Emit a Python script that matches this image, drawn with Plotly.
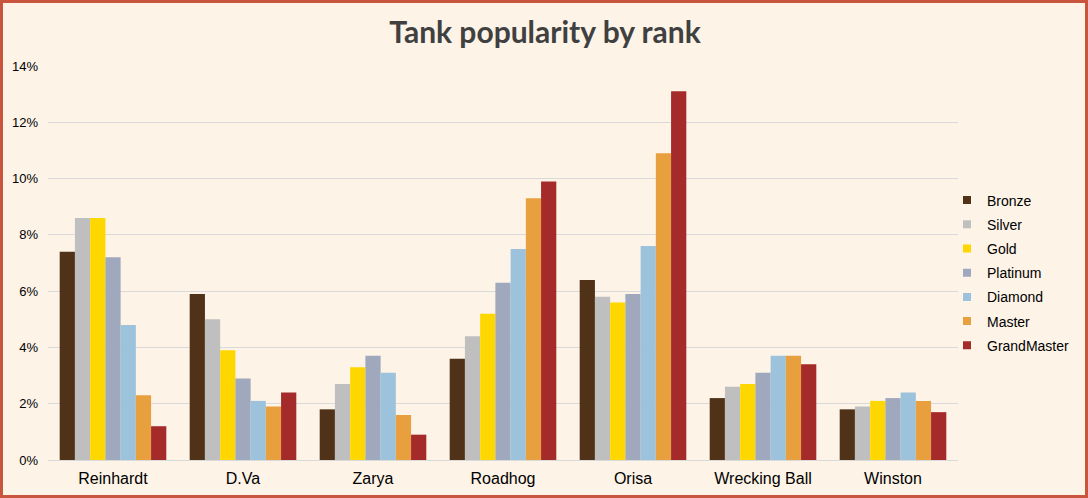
import plotly.graph_objects as go

heroes = ["Reinhardt", "D.Va", "Zarya", "Roadhog", "Orisa", "Wrecking Ball", "Winston"]
ranks = ["Bronze", "Silver", "Gold", "Platinum", "Diamond", "Master", "GrandMaster"]

bronze = [7.4, 5.9, 1.8, 3.6, 6.4, 2.2, 1.8]
silver = [8.6, 5.0, 2.7, 4.4, 5.8, 2.6, 1.9]
gold = [8.6, 3.9, 3.3, 5.2, 5.6, 2.7, 2.1]
platinum = [7.2, 2.9, 3.7, 6.3, 5.9, 3.1, 2.2]
diamond = [4.8, 2.1, 3.1, 7.5, 7.6, 3.7, 2.4]
master = [2.3, 1.9, 1.6, 9.3, 10.9, 3.7, 2.1]
grandmaster = [1.2, 2.4, 0.9, 9.9, 13.1, 3.4, 1.7]

series = [bronze, silver, gold, platinum, diamond, master, grandmaster]
colors = ["#4F3217", "#BFBFBF", "#FFD700", "#9FA8BD", "#9DC3DC", "#E8A03E", "#A52A2A"]

fig = go.Figure()
for name, vals, col in zip(ranks, series, colors):
    fig.add_trace(go.Bar(
        x=heroes, y=[v / 100 for v in vals], name=name,
        marker=dict(color=col, line=dict(width=0)),
        legendgroup=name, showlegend=False,
    ))
# legend entries with small square swatches
for name, col in zip(ranks, colors):
    fig.add_trace(go.Scatter(
        x=[None], y=[None], mode="markers", name=name,
        marker=dict(color=col, symbol="square", size=8),
        legendgroup=name, showlegend=True, hoverinfo="skip",
    ))

W, H = 1088, 498
L, R, T, B = 48, 130, 66, 38
pw, ph = W - L - R, H - T - B

def px_x(p):
    return (p - L) / pw

def px_y(p):
    return (H - B - p) / ph

fig.update_layout(
    width=W, height=H,
    margin=dict(l=L, r=R, t=T, b=B, autoexpand=False),
    paper_bgcolor="#FDF3E7",
    plot_bgcolor="#FDF3E7",
    barmode="group",
    bargap=0.18,
    bargroupgap=0,
    title=dict(text="<b>Tank popularity by rank</b>", x=px_x(545), xanchor="center",
               xref="paper", y=1 - 32 / H, yanchor="middle",
               font=dict(family="Lato, Open Sans, sans-serif", size=30, color="#404040")),
    font=dict(family="Arial, Liberation Sans, sans-serif", color="#262626"),
    legend=dict(x=px_x(947), xanchor="left", y=px_y(273), yanchor="middle",
                font=dict(size=14, color="#000000"), tracegroupgap=3,
                itemwidth=30, bgcolor="rgba(0,0,0,0)"),
    xaxis=dict(showgrid=False, showline=True, linecolor="#D9D9D9", linewidth=1,
               automargin=False,
               ticks="", ticklabelstandoff=4, tickfont=dict(size=16, color="#000000")),
    yaxis=dict(range=[0, 0.14], dtick=0.02, tickformat=".0%", showgrid=True,
               automargin=False,
               gridcolor="#D9D9D9", gridwidth=1, zeroline=False, showline=False,
               ticks="", ticklabelstandoff=9, tickfont=dict(size=13, color="#000000")),
    shapes=[dict(type="rect", xref="paper", yref="paper",
                 x0=px_x(1.5), x1=px_x(W - 1.5), y0=px_y(H - 1.5), y1=px_y(1.5),
                 line=dict(color="#C8553D", width=3), layer="above")],
)

fig.write_html("out.html", config={"displayModeBar": False},
               post_script="document.body.style.margin='0';document.body.style.overflow='hidden';")
